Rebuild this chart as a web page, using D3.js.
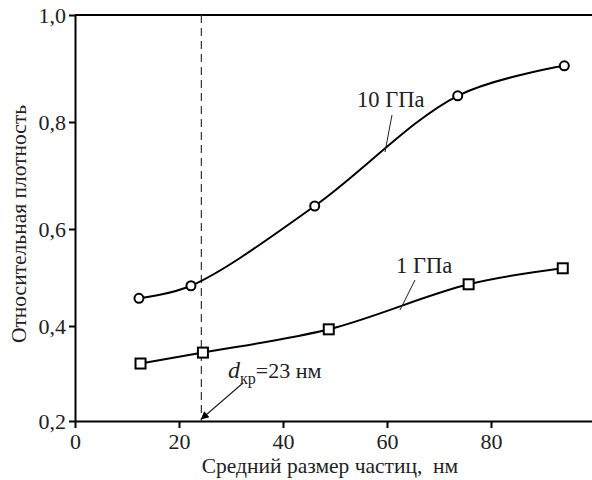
<!DOCTYPE html>
<html>
<head>
<meta charset="utf-8">
<script src="https://cdn.jsdelivr.net/npm/d3@7"></script>
<style>
  body { margin: 0; background: #fff; }
  .axis text { font-size: 22px; fill: #222; }
  .axis path, .axis line { stroke: #000; stroke-width: 2; }
</style>
</head>
<body>
<script>
const width = 592; // window size
const height = 480;
const serif = '"Liberation Serif", "Times New Roman", serif';

// data
const xTicks = [0, 20, 40, 60, 80];
const yTicks = [0.2, 0.4, 0.6, 0.8, 1.0];

const size10 = [12.3, 22.3, 46.1, 73.6, 94.1]; // 10 GPa, nm
const dens10 = [0.457, 0.483, 0.643, 0.849, 0.905];
const size1 = [12.6, 24.6, 48.8, 75.7, 93.8]; // 1 GPa, nm
const dens1 = [0.321, 0.344, 0.393, 0.486, 0.519];

const dCrit = 24.3; // dashed line position

const svg = d3.select('body').append('svg')
  .attr('width', width)
  .attr('height', height)
  .attr('font-family', serif);

const x = d3.scaleLinear().domain([0, 100]).range([75, 595]);
// the scan is a bit uneven, so the y scale is piecewise on the ticks
const y = d3.scaleLinear().domain(yTicks).range([421, 326, 229, 122, 15]);

const fmt = d => d3.format('.1f')(d).replace('.', ',');

// x axis
svg.append('g')
  .attr('class', 'axis')
  .attr('transform', 'translate(0,' + y(0.2) + ')')
  .call(d3.axisBottom(x).tickValues(xTicks).tickFormat(d3.format('d')).tickSize(7).tickSizeOuter(0).tickPadding(5))
  .attr('font-family', serif);

// y axis
svg.append('g')
  .attr('class', 'axis')
  .attr('transform', 'translate(' + x(0) + ',0)')
  .call(d3.axisLeft(y).tickValues(yTicks).tickFormat(fmt).tickSize(6).tickSizeOuter(0).tickPadding(3))
  .attr('font-family', serif);

// top frame line
svg.append('line')
  .attr('x1', x(0)).attr('x2', width)
  .attr('y1', y(1)).attr('y2', y(1))
  .attr('stroke', '#000').attr('stroke-width', 2);

// dashed critical size
svg.append('line')
  .attr('x1', x(dCrit)).attr('x2', x(dCrit))
  .attr('y1', y(1)).attr('y2', y(0.2))
  .attr('stroke', '#333').attr('stroke-width', 1.2)
  .attr('stroke-dasharray', '8,5');

const line = d3.line()
  .x(d => x(d[0]))
  .y(d => y(d[1]))
  .curve(d3.curveCatmullRom.alpha(0.5));

const pts10 = size10.map((s, i) => [s, dens10[i]]);
const pts1 = size1.map((s, i) => [s, dens1[i]]);

svg.append('path').datum(pts10)
  .attr('d', line).attr('fill', 'none')
  .attr('stroke', '#000').attr('stroke-width', 2);

svg.append('path').datum(pts1)
  .attr('d', line).attr('fill', 'none')
  .attr('stroke', '#000').attr('stroke-width', 2);

svg.selectAll('circle.m10')
  .data(pts10)
  .enter()
  .append('circle')
  .attr('class', 'm10')
  .attr('cx', d => x(d[0]))
  .attr('cy', d => y(d[1]))
  .attr('r', 4.5)
  .attr('fill', '#fff')
  .attr('stroke', '#000')
  .attr('stroke-width', 2);

svg.selectAll('rect.m1')
  .data(pts1)
  .enter()
  .append('rect')
  .attr('class', 'm1')
  .attr('x', d => x(d[0]) - 5)
  .attr('y', d => y(d[1]) - 5)
  .attr('width', 10)
  .attr('height', 10)
  .attr('fill', '#fff')
  .attr('stroke', '#000')
  .attr('stroke-width', 2);

// curve labels with leader lines
svg.append('text')
  .attr('x', 357).attr('y', 107)
  .attr('font-size', 22.5).attr('fill', '#222')
  .text('10 ГПа');
svg.append('line')
  .attr('x1', 392).attr('y1', 115).attr('x2', 385).attr('y2', 152)
  .attr('stroke', '#222').attr('stroke-width', 1);

svg.append('text')
  .attr('x', 396).attr('y', 273)
  .attr('font-size', 22.5).attr('fill', '#222')
  .text('1 ГПа');
svg.append('line')
  .attr('x1', 415).attr('y1', 280).attr('x2', 400).attr('y2', 310)
  .attr('stroke', '#222').attr('stroke-width', 1);

// d_kr annotation
const note = svg.append('text')
  .attr('x', 228).attr('y', 378)
  .attr('font-size', 22).attr('fill', '#222');
note.append('tspan').attr('font-style', 'italic').attr('font-size', 24).text('d');
note.append('tspan').attr('font-size', 16).attr('dy', 6).text('кр');
note.append('tspan').attr('dy', -6).text('=23 нм');

svg.append('defs').append('marker')
  .attr('id', 'arrow')
  .attr('viewBox', '0 0 10 10')
  .attr('refX', 9).attr('refY', 5)
  .attr('markerWidth', 11).attr('markerHeight', 8)
  .attr('markerUnits', 'userSpaceOnUse')
  .attr('orient', 'auto')
  .append('path')
  .attr('d', 'M0,0L10,5L0,10z')
  .attr('fill', '#000');

svg.append('line')
  .attr('x1', 243).attr('y1', 383)
  .attr('x2', x(dCrit)).attr('y2', y(0.2) - 2)
  .attr('stroke', '#222').attr('stroke-width', 1.2)
  .attr('marker-end', 'url(#arrow)');

// axis titles
svg.append('text')
  .attr('x', 330).attr('y', 473)
  .attr('text-anchor', 'middle')
  .attr('font-size', 21.5).attr('fill', '#222')
  .style('white-space', 'pre')
  .text('Средний размер частиц,  нм');

svg.append('text')
  .attr('transform', 'translate(26,224) rotate(-90)')
  .attr('text-anchor', 'middle')
  .attr('font-size', 21.5).attr('fill', '#222')
  .text('Относительная плотность');
</script>
</body>
</html>
